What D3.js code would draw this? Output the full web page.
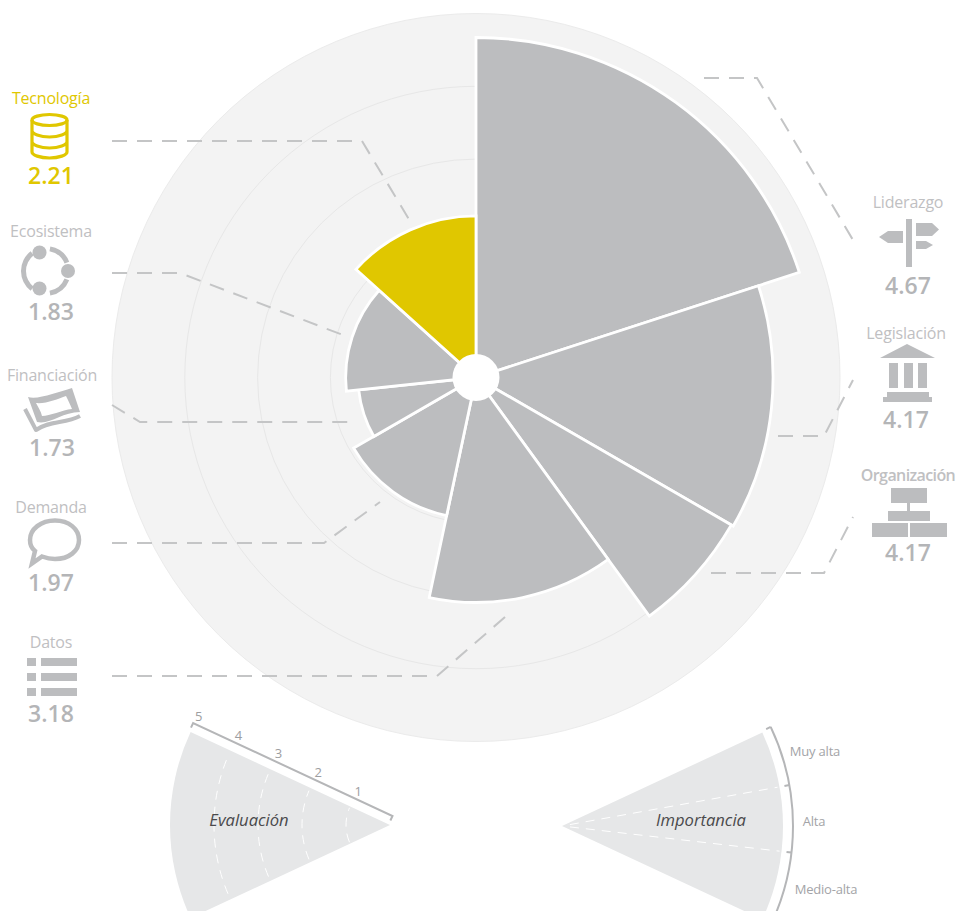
<!DOCTYPE html>
<html>
<head>
<meta charset="utf-8">
<script src="https://cdn.jsdelivr.net/npm/d3@7"></script>
<style>
  html, body { margin: 0; padding: 0; background: #fff; }
  svg { display: block; }
  text { font-family: "Open Sans", sans-serif; }
</style>
</head>
<body>
<script>
var categories = ["Liderazgo", "Legislación", "Organización", "Datos", "Demanda", "Financiación", "Ecosistema", "Tecnología"];
// printed score next to each icon
var scores = ["4.67", "4.17", "4.17", "3.18", "1.97", "1.73", "1.83", "2.21"];
// wedge length as it is drawn, read against the rings
var reach = [4.67, 4.08, 4.05, 3.09, 1.94, 1.62, 1.79, 2.22];
// importance decides the wedge width: 3 muy alta, 2 alta, 1 medio-alta
var importance = [3, 2, 1, 2, 2, 1, 2, 2];
var evalTicks = [1, 2, 3, 4, 5];
var importanceLabels = ["Muy alta", "Alta", "Medio-alta"];

var width = 957;
var height = 911;
var grey = "#bcbdbf";
var yellow = "#e0c700";
var labelGrey = "#bfc0c2";

var svg = d3.select("body").append("svg")
  .attr("width", width)
  .attr("height", height);

var rad = Math.PI / 180;
var r = d3.scaleLinear().domain([0, 5]).range([0, 364]);

var chart = svg.append("g").attr("transform", "translate(476,377.5)");

chart.append("circle").attr("r", r(5)).attr("fill", "#f3f3f3").attr("stroke", "#ebebeb");

chart.selectAll("circle.ring")
  .data([1, 2, 3, 4])
  .enter().append("circle")
  .attr("class", "ring")
  .attr("r", function (d) { return r(d); })
  .attr("fill", "none")
  .attr("stroke", "#e7e7e7")
  .attr("stroke-width", 1);

var pie = d3.pie().sort(null).value(function (d) { return d; });
var slices = pie(importance);
var arc = d3.arc()
  .innerRadius(0)
  .outerRadius(function (d) { return r(reach[d.index]); });

chart.selectAll("path.wedge")
  .data(slices)
  .enter().append("path")
  .attr("class", "wedge")
  .attr("d", arc)
  .attr("fill", function (d) { return categories[d.index] == "Tecnología" ? yellow : grey; })
  .attr("stroke", "#fff")
  .attr("stroke-width", 2.8)
  .attr("stroke-linejoin", "miter");

chart.append("circle").attr("r", 23.5).attr("fill", "#fff");

// leader lines, same order as categories
var leaders = [
  [[704, 78], [757, 78], [853, 240]],
  [[778, 436], [824, 436], [853, 380]],
  [[711, 573], [824, 573], [853, 517]],
  [[112, 676], [437, 676], [512, 611]],
  [[112, 543], [324, 543], [380, 502]],
  [[112, 405], [140, 422], [350, 422]],
  [[112, 273], [180, 273], [343, 335]],
  [[112, 141], [362, 141], [413, 226]]
];
svg.selectAll("path.leader")
  .data(leaders)
  .enter().append("path")
  .attr("class", "leader")
  .attr("d", d3.line())
  .attr("fill", "none")
  .attr("stroke", "#c4c5c6")
  .attr("stroke-width", 2)
  .attr("stroke-dasharray", "15,10");

// label block positions: x, label y, value y
var blocks = [
  [908, 202, 286], [906, 333, 420], [908, 475, 553], [51, 642, 714],
  [51, 507, 583], [52, 375, 448], [51, 231, 312], [51, 98, 176]
];
var block = svg.selectAll("g.block")
  .data(categories)
  .enter().append("g")
  .attr("class", "block");

block.append("text")
  .attr("x", function (d, i) { return blocks[i][0]; })
  .attr("y", function (d, i) { return blocks[i][1]; })
  .attr("dy", "0.35em")
  .attr("text-anchor", "middle")
  .attr("font-size", 16)
  .attr("font-weight", function (d) { return d == "Organización" ? 600 : 400; })
  .attr("letter-spacing", function (d) { return d == "Organización" ? "-0.6px" : "-0.2px"; })
  .attr("fill", function (d) { return d == "Tecnología" ? yellow : labelGrey; })
  .text(function (d) { return d; });

block.append("text")
  .attr("x", function (d, i) { return blocks[i][0]; })
  .attr("y", function (d, i) { return blocks[i][2]; })
  .attr("dy", "0.36em")
  .attr("text-anchor", "middle")
  .attr("font-size", 23)
  .attr("font-weight", 600)
  .attr("fill", function (d) { return d == "Tecnología" ? yellow : "#b4b5b7"; })
  .text(function (d, i) { return scores[i]; });

// icons
var icons = svg.append("g").attr("fill", grey).attr("stroke", "none");

// Liderazgo
icons.append("path").attr("d", "M906,219H912V267H906Z M879,237L888,231H903V243H888Z M916,223H932L939,229.5L932,236H916Z M916,241H926L933,245L926,249H916Z");
// Legislación
icons.append("path").attr("d", "M880,358L907,344L935,358Z M889,363H898V388H889Z M904,363H913V388H904Z M918,363H927V388H918Z M887,392H929V397H932V402H883V397H887Z");
// Organización
icons.append("path").attr("d", "M891,488H927V503H891Z M907,503H910V511H907Z M888,511H930V521H888Z M872,523H908V537H872Z M910,523H947V537H910Z");
// Datos
icons.append("path").attr("d", "M27,658H36V666H27Z M41,658H77V666H41Z M27,673H36V681H27Z M41,673H77V681H41Z M27,688H36V696H27Z M41,688H77V696H41Z");
// Demanda
icons.append("path")
  .attr("d", "M55,520.5C69,520.5 79,529 79,540C79,551 69,559 55,559C50,559 46,558 42,556.5L32,563.5L35,551C31,548 30,544 30,540C30,529 41,520.5 55,520.5Z")
  .attr("fill", "none").attr("stroke", grey).attr("stroke-width", 4.5).attr("stroke-linejoin", "miter");
// Financiación
icons.append("path")
  .attr("fill-rule", "evenodd")
  .attr("d", "M28,397C38,400 58,392 72,388L80,412C62,412 50,425 37,422Z M36,403C46,404 58,399 66,396C68,400 70,404 72,409C62,410 50,416 42,416C41,411 38,407 36,403Z");
icons.append("path")
  .attr("d", "M25,409L36,430C50,420 65,424 80,416")
  .attr("fill", "none").attr("stroke", grey).attr("stroke-width", 4).attr("stroke-linejoin", "round");
// Ecosistema
icons.append("circle").attr("cx", 39.5).attr("cy", 252.5).attr("r", 7);
icons.append("circle").attr("cx", 68).attr("cy", 271).attr("r", 7);
icons.append("circle").attr("cx", 39.5).attr("cy", 288.5).attr("r", 7);
var ecoArc = d3.arc().innerRadius(20).outerRadius(25);
[[10, 68], [112, 170], [218, 322]].forEach(function (a) {
  icons.append("path")
    .attr("transform", "translate(46,271)")
    .attr("d", ecoArc({ startAngle: a[0] * rad, endAngle: a[1] * rad }));
});
// Tecnología
var db = svg.append("g").attr("fill", "none").attr("stroke", yellow).attr("stroke-width", 3.2);
db.append("ellipse").attr("cx", 49.5).attr("cy", 120).attr("rx", 17.5).attr("ry", 5.5);
db.append("path").attr("d", "M32,120V152C32,155 40,158 49.5,158C59,158 67,155 67,152V120 M32,130.5C32,134 40,137 49.5,137C59,137 67,134 67,130.5 M32,141.5C32,145 40,148 49.5,148C59,148 67,145 67,141.5");

// Evaluación key
var keyR = d3.scaleLinear().domain([0, 5]).range([0, 220]);
var evalKey = svg.append("g").attr("transform", "translate(390,825)");
var sector = d3.arc().innerRadius(0);

evalKey.append("path")
  .attr("d", sector({ outerRadius: keyR(5), startAngle: -115 * rad, endAngle: -65 * rad }))
  .attr("fill", "#e6e7e8");

evalKey.selectAll("path.evalRing")
  .data([1, 2, 3, 4])
  .enter().append("path")
  .attr("class", "evalRing")
  .attr("d", function (d) {
    var p = d3.path();
    p.arc(0, 0, keyR(d), (180 - 23) * rad, (180 + 23) * rad);
    return p.toString();
  })
  .attr("fill", "none")
  .attr("stroke", "#fff")
  .attr("stroke-width", 1)
  .attr("stroke-dasharray", "9,7");

evalKey.append("text")
  .attr("x", -141).attr("y", -4.5).attr("dy", "0.35em")
  .attr("text-anchor", "middle")
  .attr("font-size", 16.6).attr("font-style", "italic").attr("fill", "#4a4a4c")
  .text("Evaluación");

// tilted axis along the upper edge
var evalAxis = svg.append("g").attr("transform", "translate(392.5,816) rotate(25)");
evalAxis.append("path")
  .attr("d", "M0,5V0H" + (-keyR(5)) + "V5")
  .attr("fill", "none").attr("stroke", "#b5b6b8").attr("stroke-width", 2);
evalAxis.selectAll("text")
  .data(evalTicks)
  .enter().append("text")
  .attr("transform", function (d) { return "translate(" + (-keyR(d) + 2.3) + ",-8.2) rotate(-25)"; })
  .attr("dy", "0.35em")
  .attr("text-anchor", "middle")
  .attr("font-size", 13).attr("fill", "#9d9ea1")
  .text(function (d) { return d; });

// Importancia key
var impKey = svg.append("g").attr("transform", "translate(562,826)");
impKey.append("path")
  .attr("d", sector({ outerRadius: 221, startAngle: 65 * rad, endAngle: 115 * rad }))
  .attr("fill", "#e6e7e8");

impKey.selectAll("line.split")
  .data([-10.2, 6.6])
  .enter().append("line")
  .attr("class", "split")
  .attr("x1", function (d) { return 8 * Math.cos(d * rad); })
  .attr("y1", function (d) { return 8 * Math.sin(d * rad); })
  .attr("x2", function (d) { return 219 * Math.cos(d * rad); })
  .attr("y2", function (d) { return 219 * Math.sin(d * rad); })
  .attr("stroke", "#fff").attr("stroke-width", 1).attr("stroke-dasharray", "9,7");

var outerKey = d3.path();
outerKey.arc(0, 0, 231, -25.4 * rad, 25.4 * rad);
impKey.append("path")
  .attr("d", outerKey.toString())
  .attr("fill", "none").attr("stroke", "#b5b6b8").attr("stroke-width", 2);

impKey.selectAll("line.mark")
  .data([-25.4, -10.2, 6.6])
  .enter().append("line")
  .attr("class", "mark")
  .attr("x1", function (d) { return 226 * Math.cos(d * rad); })
  .attr("y1", function (d) { return 226 * Math.sin(d * rad); })
  .attr("x2", function (d) { return 231 * Math.cos(d * rad); })
  .attr("y2", function (d) { return 231 * Math.sin(d * rad); })
  .attr("stroke", "#b5b6b8").attr("stroke-width", 2);

impKey.append("text")
  .attr("x", 139).attr("y", -5.5).attr("dy", "0.35em")
  .attr("text-anchor", "middle")
  .attr("font-size", 16.6).attr("font-style", "italic").attr("fill", "#4a4a4c")
  .text("Importancia");

var impPos = [[815, 751], [814, 821], [826, 889]];
svg.selectAll("text.imp")
  .data(importanceLabels)
  .enter().append("text")
  .attr("class", "imp")
  .attr("x", function (d, i) { return impPos[i][0]; })
  .attr("y", function (d, i) { return impPos[i][1]; })
  .attr("dy", "0.35em")
  .attr("text-anchor", "middle")
  .attr("font-size", 13).attr("letter-spacing", "-0.2px").attr("fill", "#a3a4a7")
  .text(function (d) { return d; });
</script>
</body>
</html>
